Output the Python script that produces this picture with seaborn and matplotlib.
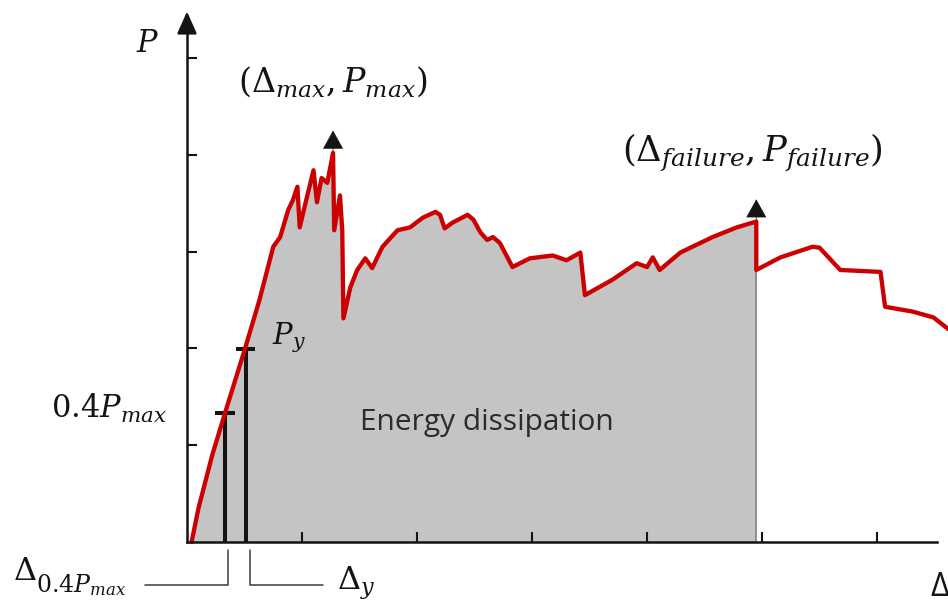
import numpy as np
import pandas as pd
import matplotlib
matplotlib.use("Agg")
import matplotlib.pyplot as plt
import seaborn as sns

# Load-displacement curve (schematic units)
displacement = [0.04, 0.10, 0.22, 0.33, 0.50, 0.63, 0.75, 0.81, 0.88, 0.92,
                0.96, 0.98, 1.03, 1.10, 1.13, 1.17, 1.22, 1.27, 1.28, 1.33,
                1.35, 1.36, 1.42, 1.48, 1.55, 1.61, 1.70, 1.83, 1.94, 2.05,
                2.16, 2.20, 2.24, 2.31, 2.44, 2.49, 2.55, 2.61, 2.66, 2.72,
                2.83, 2.98, 3.18, 3.30, 3.42, 3.46, 3.70, 3.91, 4.00, 4.05,
                4.11, 4.29, 4.57, 4.78, 4.95, 4.95, 5.16, 5.44, 5.50, 5.68,
                6.03, 6.07, 6.31, 6.49, 6.63]
load = [0.00, 0.35, 0.90, 1.33, 1.98, 2.50, 3.05, 3.15, 3.43, 3.53,
        3.67, 3.25, 3.50, 3.84, 3.51, 3.76, 3.71, 4.02, 3.22, 3.58,
        3.22, 2.31, 2.63, 2.81, 2.93, 2.83, 3.05, 3.22, 3.25, 3.35,
        3.41, 3.38, 3.24, 3.30, 3.38, 3.33, 3.20, 3.12, 3.15, 3.09,
        2.84, 2.93, 2.96, 2.91, 2.99, 2.55, 2.71, 2.88, 2.84, 2.94,
        2.81, 2.99, 3.15, 3.25, 3.31, 2.81, 2.94, 3.05, 3.04, 2.81,
        2.79, 2.43, 2.38, 2.32, 2.19]

x_ticks = [1, 2, 3, 4, 5, 6]
y_ticks = [1, 2, 3, 4, 5]

# Characteristic points
delta_max, p_max = 1.27, 4.02
delta_fail, p_fail = 4.95, 3.31
delta_04, p_04 = 0.33, 1.33
delta_y, p_y = 0.51, 1.99

sns.set_theme(style="white")
plt.rcParams["mathtext.fontset"] = "dejavuserif"
plt.rcParams["font.family"] = ["Open Sans", "DejaVu Sans"]

INK = "#141414"
RED = "#cc0000"

fig = plt.figure(figsize=(9.48, 6.05), dpi=100)
ax = fig.add_axes([0, 0, 1, 1])
ax.set_xlim(-1.626, 6.617)
ax.set_ylim(-0.651, 5.599)
ax.set_axisbelow(False)

df = pd.DataFrame({"disp": displacement, "load": load})
n_fail = int(np.argmax(np.isclose(df["disp"], delta_fail) & np.isclose(df["load"], p_fail)))
area = df.iloc[: n_fail + 1]

# Dissipated energy: area under the curve up to failure
ax.fill_between(area["disp"], 0, area["load"], color="#c4c4c4", lw=0, zorder=1)
ax.vlines(delta_fail, 0, p_fail, color="#8a8a8a", lw=1.3, zorder=1.5)

# 0.4 Pmax and yield markers
for d, p in [(delta_04, p_04), (delta_y, p_y)]:
    ax.vlines(d, 0, p, color=INK, lw=2.9, zorder=2)
    ax.hlines(p, d - 0.085, d + 0.085, color=INK, lw=2.9, zorder=2)

sns.lineplot(data=df, x="disp", y="load", sort=False, estimator=None,
             color=RED, lw=3.1, ax=ax, zorder=3)

# Axes through the origin with inward ticks and arrowheads
ax.set_xlabel("")
ax.set_ylabel("")
ax.set_xticks(x_ticks)
ax.set_yticks(y_ticks)
ax.set_xticklabels([])
ax.set_yticklabels([])
for s in ["top", "right"]:
    ax.spines[s].set_visible(False)
ax.spines["left"].set_position(("data", 0))
ax.spines["bottom"].set_position(("data", 0))
ax.spines["left"].set_bounds(0, 5.32)
ax.spines["bottom"].set_bounds(0, 6.52)
for s in ["left", "bottom"]:
    ax.spines[s].set_color(INK)
    ax.spines[s].set_linewidth(1.8)
    ax.spines[s].set_zorder(4)
ax.tick_params(bottom=True, left=True, direction="in", length=7, width=1.5,
               colors=INK)

axis_arrow = dict(arrowstyle="-|>,head_length=0.45,head_width=0.2",
                  mutation_scale=30, color=INK, lw=1.8, shrinkA=0, shrinkB=0)
ax.annotate("", xy=(0, 5.48), xytext=(0, 5.28), arrowprops=axis_arrow)
ax.annotate("", xy=(6.68, 0), xytext=(6.45, 0), arrowprops=axis_arrow)

point_arrow = dict(arrowstyle="-|>,head_length=0.36,head_width=0.2",
                   mutation_scale=34, color=INK, lw=0.5, shrinkA=0, shrinkB=0)
for d, p in [(delta_max, p_max), (delta_fail, p_fail)]:
    ax.annotate("", xy=(d, p + 0.23), xytext=(d, p + 0.02),
                arrowprops=point_arrow, zorder=5)

# Labels
ax.text(-0.339, 5.145, r"$P$", fontsize=22, color=INK, ha="center", va="center")
ax.text(delta_max, 4.75, r"$(\Delta_{max}, P_{max})$", fontsize=24, color=INK,
        ha="center", va="center")
ax.text(4.92, 4.02, r"$(\Delta_{failure}, P_{failure})$", fontsize=25.5, color=INK,
        ha="center", va="center")
ax.text(0.74, 2.11, r"$P_y$", fontsize=21, color=INK, ha="left", va="center")
ax.text(-0.174, 1.38, r"$0.4P_{max}$", fontsize=22, color=INK, ha="right", va="center")
ax.text(2.61, 1.23, "Energy dissipation", fontsize=21.5, color="#2b2b2b",
        ha="center", va="center")
ax.text(-1.513, -0.31, r"$\Delta$", fontsize=23, color=INK, ha="left", va="center")
ax.text(-1.315, -0.45, r"$0.4P_{max}$", fontsize=17, color=INK, ha="left", va="center")
ax.text(1.304, -0.43, r"$\Delta_y$", fontsize=23, color=INK, ha="left", va="center")
ax.text(6.461, -0.475, "Δ", fontsize=23, color=INK, ha="left", va="center")

# Leader brackets for the displacement labels
lead = dict(color="#3a3a3a", lw=1.1)
ax.plot([-0.365, delta_04 + 0.027, delta_04 + 0.027], [-0.444, -0.444, -0.083], **lead)
ax.plot([1.183, delta_y + 0.038, delta_y + 0.038], [-0.444, -0.444, -0.083], **lead)

fig.savefig("out.png", dpi=100)
